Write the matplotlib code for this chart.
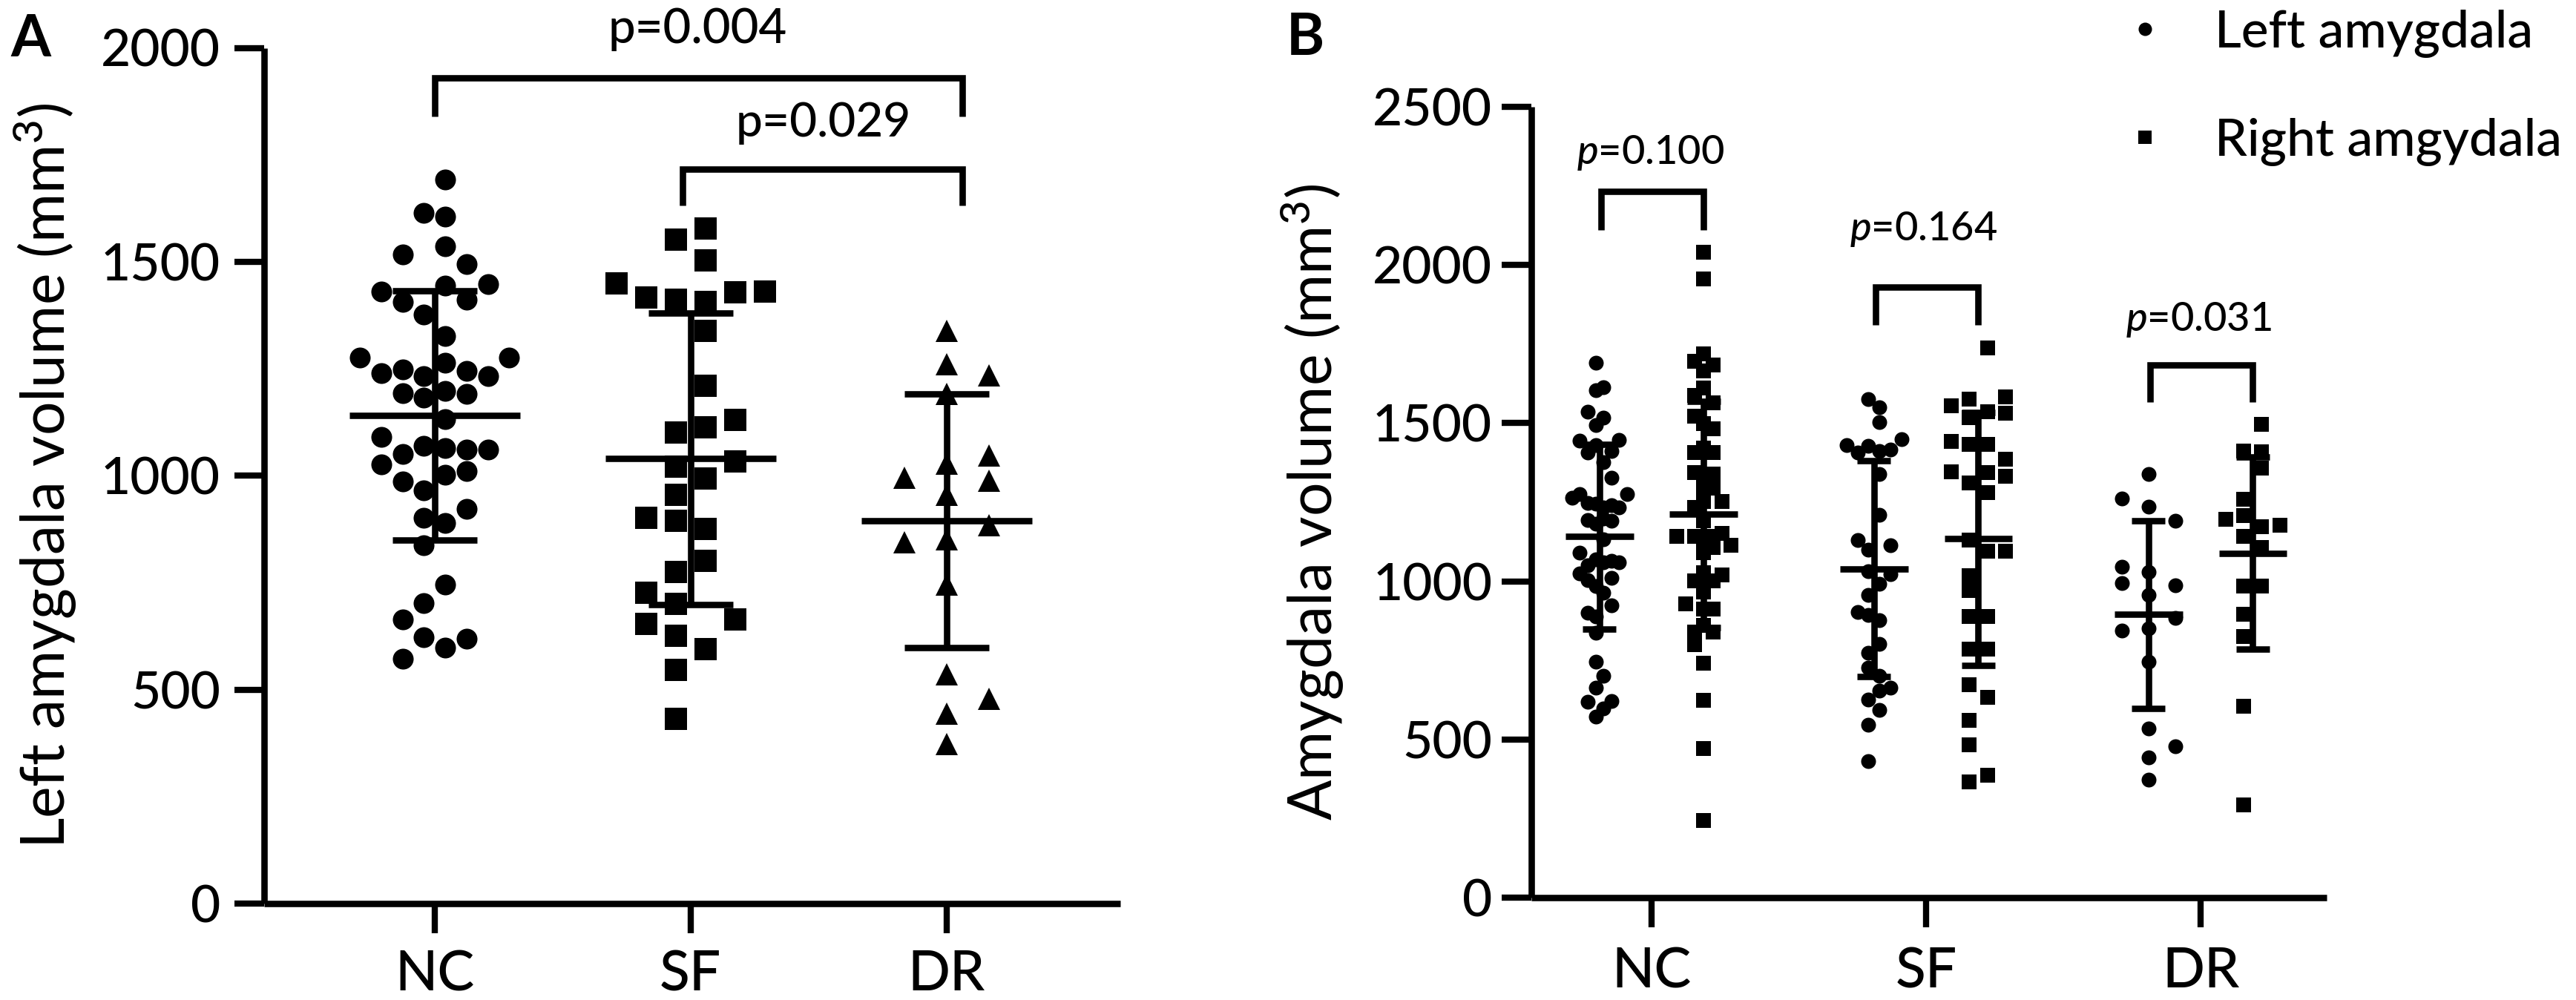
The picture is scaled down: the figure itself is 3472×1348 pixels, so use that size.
import numpy as np
import matplotlib
matplotlib.use("Agg")
import matplotlib.pyplot as plt
from matplotlib.lines import Line2D

plt.rcParams['font.family'] = ['Lato', 'DejaVu Sans']
plt.rcParams['font.weight'] = 'medium'
plt.rcParams['mathtext.fontset'] = 'custom'
plt.rcParams['mathtext.rm'] = 'Lato:medium'
plt.rcParams['mathtext.it'] = 'Lato:italic:medium'
plt.rcParams['mathtext.bf'] = 'Lato:bold'

# ---------------- data ----------------
groups = ['NC', 'SF', 'DR']

# left amygdala volume (mm3), shared by panels A and B
left_nc = [1692, 1614, 1605, 1536, 1517, 1494, 1448, 1445, 1431, 1412, 1407, 1377,
           1327, 1276, 1276, 1264, 1248, 1245, 1240, 1233, 1233, 1198, 1193, 1191,
           1182, 1133, 1091, 1069, 1064, 1061, 1061, 1050, 1026, 1010, 1003, 986,
           965, 923, 901, 890, 838, 746, 702, 664, 622, 619, 598, 572]
left_sf = [1577, 1551, 1504, 1449, 1430, 1428, 1416, 1411, 1407, 1339, 1210, 1131,
           1113, 1101, 1033, 1022, 993, 956, 902, 894, 876, 801, 775, 726, 701, 664,
           654, 626, 594, 547, 432]
left_dr = [1338, 1261, 1235, 1192, 1047, 1029, 995, 988, 956, 885, 852, 844, 746,
           535, 479, 444, 373]

# right amygdala volume (mm3), panel B
right_nc = [2041, 1956, 1720, 1695, 1685, 1665, 1612, 1587, 1564, 1521, 1498, 1482,
            1421, 1406, 1406, 1344, 1340, 1319, 1294, 1294, 1253, 1253, 1233, 1192,
            1151, 1141, 1141, 1141, 1116, 1114, 1106, 1091, 1027, 1020, 1002, 1002,
            967, 928, 912, 912, 861, 839, 839, 800, 741, 623, 472, 243]
right_sf = [1737, 1582, 1577, 1556, 1536, 1532, 1517, 1443, 1433, 1433, 1386, 1347,
            1344, 1331, 1312, 1281, 1131, 1096, 1096, 1017, 970, 888, 888, 785, 785,
            673, 633, 560, 483, 387, 366]
right_dr = [1496, 1412, 1410, 1357, 1260, 1208, 1197, 1178, 1173, 1142, 1106, 985,
            985, 897, 825, 605, 294]

# scatter column (swarm slot) of every point
slot_a_nc = [0.5, -0.5, 0.5, 0.5, -1.5, 1.5, 2.5, 0.5, -2.5, 1.5, -1.5, -0.5,
             0.5, -3.5, 3.5, 0.5, -1.5, 1.5, -2.5, -0.5, 2.5, 0.5, -1.5, 1.5,
             -0.5, 0.5, -2.5, -0.5, 0.5, 1.5, 2.5, -1.5, -2.5, 1.5, 0.5, -1.5,
             -0.5, 1.5, -0.5, 0.5, -0.5, 0.5, -0.5, -1.5, -0.5, 1.5, 0.5, -1.5]
slot_a_sf = [0.5, -0.5, 0.5, -2.5, 2.5, 1.5, -1.5, -0.5, 0.5, 0.5, 0.5, 1.5, 0.5,
             -0.5, 1.5, -0.5, 0.5, -0.5, -1.5, -0.5, 0.5, 0.5, -0.5, -1.5, -0.5,
             1.5, -1.5, -0.5, 0.5, -0.5, -0.5]
slot_a_dr = [0, 0, 1, 0, 1, 0, -1, 1, 0, 1, 0, -1, 0, 0, 1, 0, 0]

slot_bl_nc = [-0.5, 0.5, -0.5, -1.5, 0.5, -0.5, 2.5, -2.5, -0.5, 1.5, -1.5, 0.5,
              1.5, -2.5, 3.5, -3.5, -1.5, -0.5, 1.5, 2.5, 0.5, 0.5, -1.5, 1.5,
              -0.5, 0.5, -2.5, -0.5, 1.5, 2.5, 0.5, -1.5, -2.5, 1.5, -1.5, -0.5,
              0.5, 1.5, -1.5, -0.5, -0.5, -0.5, 0.5, -0.5, 1.5, -1.5, 0.5, -0.5]
slot_bl_sf = [-0.5, 0.5, 0.5, 2.5, -2.5, -0.5, 1.5, 0.5, -1.5, 0.5, 0.5, -1.5, 1.5,
              -0.5, -0.5, 1.5, 0.5, -0.5, -1.5, -0.5, 0.5, 0.5, -0.5, -0.5, 0.5,
              1.5, 0.5, -0.5, 0.5, -0.5, -0.5]
slot_bl_dr = [0, -1, 0, 1, -1, 0, -1, 1, 0, 1, 0, -1, 0, 0, 1, 0, 0]

slot_br_nc = [0, 0, 0, -0.5, 0.5, 0, 0, -0.5, 0.5, -0.5, 0, 0.5, 0, -0.5, 0.5,
              -0.5, 0.5, 0, 0, 0.5, 0, 1, -0.5, 0, 1, -1.5, -0.5, 0.5, 0, 1.5,
              0.5, 0, 0, 1, -0.5, 0.5, 0, -1, 0, 0.5, 0, -0.5, 0.5, -0.5, 0, 0, 0, 0]
slot_br_sf = [0.5, 1.5, -0.5, -1.5, 0.5, 1.5, -0.5, -1.5, -0.5, 0.5, 1.5, -1.5, 0.5,
              1.5, -0.5, 0.5, -0.5, 0.5, 1.5, -0.5, -0.5, -0.5, 0.5, -0.5, 0.5,
              -0.5, 0.5, -0.5, -0.5, 0.5, -0.5]
slot_br_dr = [0.5, -0.5, 0.5, 0.5, -0.5, -0.5, -1.5, 1.5, 0.5, -0.5, 0.5, -0.5, 0.5,
              -0.5, -0.5, -0.5, -0.5]

# mean and SD as drawn
left_mean = [1141, 1040, 895]
left_sd = [292, 341, 297]
right_mean = [1212, 1134, 1089]
right_sd = [358, 400, 304]

p_a = ['p=0.004', 'p=0.029']
p_b = ['0.100', '0.164', '0.031']

# ---------------- figure ----------------
W, H = 3473, 1348
fig = plt.figure(figsize=(W / 100, H / 100), dpi=100)

def px_rect(l, r, t, b):
    return [l / W, (H - b) / H, (r - l) / W, (b - t) / H]

axA = fig.add_axes(px_rect(356, 1510, 64.5, 1218))
axB = fig.add_axes(px_rect(2064, 3136, 144, 1210))

LW = 6.2
YTICK_FS = 50
XTICK_FS = 54
LAB_FS = 58

for ax in (axA, axB):
    for s in ('top', 'right'):
        ax.spines[s].set_visible(False)
    for s in ('left', 'bottom'):
        ax.spines[s].set_linewidth(LW)
        ax.spines[s].set_capstyle('butt')
    ax.tick_params(axis='both', width=6.0, length=29, color='k', labelcolor='k')
    ax.set_facecolor('none')

x = np.arange(len(groups))


def stats(ax, xc, mean, sd, hm, hc):
    kw = dict(colors='k', linewidth=LW, zorder=4, capstyle='butt')
    ax.hlines(mean, xc - hm, xc + hm, **kw)
    ax.vlines(xc, mean - sd, mean + sd, **kw)
    ax.hlines([mean - sd, mean + sd], xc - hc, xc + hc, **kw)


def bracket(ax, x1, x2, y, yl):
    ax.plot([x1, x1, x2, x2], [yl, y, y, yl], color='k', lw=LW,
            solid_joinstyle='miter', solid_capstyle='butt', clip_on=False, zorder=5)

# ---------- Panel A ----------
a_vals = [left_nc, left_sf, left_dr]
a_slots = [slot_a_nc, slot_a_sf, slot_a_dr]
a_step = [0.0832, 0.116, 0.165]
a_marker = ['o', 's', '^']
a_ms = [20.2, 21.0, 21.0]
for i in range(3):
    xs = x[i] + np.asarray(a_slots[i]) * a_step[i]
    axA.plot(xs, a_vals[i], linestyle='none', marker=a_marker[i], ms=a_ms[i],
             mfc='k', mec='k', mew=0, zorder=3, clip_on=False)
    stats(axA, x[i], left_mean[i], left_sd[i], 0.333, 0.165)

axA.set_xlim(-0.666, 2.679)
axA.set_ylim(0, 2000)
axA.set_yticks([0, 500, 1000, 1500, 2000])
axA.set_xticks(x)
axA.set_xticklabels(groups)
axA.tick_params(axis='y', pad=13.5, labelsize=YTICK_FS)
axA.tick_params(axis='x', pad=15, labelsize=XTICK_FS)
axA.set_ylabel('Left amygdala volume (mm$^3$)', fontsize=LAB_FS)
axA.yaxis.set_label_coords(-0.2565, 0.5)
axA.yaxis.label.set_va('center')

bracket(axA, 0.0, 2.062, 1930, 1839)
bracket(axA, 0.969, 2.062, 1716, 1631)
axA.text(1.027, 2012, p_a[0], ha='center', va='baseline', fontsize=47, clip_on=False)
axA.text(1.519, 1792, p_a[1], ha='center', va='baseline', fontsize=46, clip_on=False)

# ---------- Panel B ----------
b_left_slots = [slot_bl_nc, slot_bl_sf, slot_bl_dr]
b_left_step = [0.0284, 0.0397, 0.0973]
b_right_vals = [right_nc, right_sf, right_dr]
b_right_slots = [slot_br_nc, slot_br_sf, slot_br_dr]
b_right_step = [0.0657, 0.0657, 0.0650]
OFF = 0.19
for i in range(3):
    xl = x[i] - OFF + np.asarray(b_left_slots[i]) * b_left_step[i]
    axB.plot(xl, a_vals[i], linestyle='none', marker='o', ms=14.4,
             mfc='k', mec='k', mew=0, zorder=3)
    xr = x[i] + OFF + np.asarray(b_right_slots[i]) * b_right_step[i]
    axB.plot(xr, b_right_vals[i], linestyle='none', marker='s', ms=14.4,
             mfc='k', mec='k', mew=0, zorder=3)
    stats(axB, x[i] - OFF, left_mean[i], left_sd[i], 0.124, 0.061)
    stats(axB, x[i] + OFF, right_mean[i], right_sd[i], 0.124, 0.061)

axB.set_xlim(-0.438, 2.459)
axB.set_ylim(0, 2500)
axB.set_yticks([0, 500, 1000, 1500, 2000, 2500])
axB.set_xticks(x)
axB.set_xticklabels(groups)
axB.tick_params(axis='y', pad=9, labelsize=YTICK_FS)
axB.tick_params(axis='x', pad=18, labelsize=XTICK_FS)
axB.set_ylabel('Amygdala volume (mm$^3$)', fontsize=LAB_FS)
axB.yaxis.set_label_coords(-0.2761, 0.5)
axB.yaxis.label.set_va('center')

b_br_y = [2232, 1930, 1683]
b_br_leg = [2110, 1810, 1566]
b_txt_y = [2319, 2077, 1791]
b_txt_x = [-0.005, 0.991, 1.992]
for i in range(3):
    bracket(axB, x[i] - 0.184, x[i] + 0.19, b_br_y[i], b_br_leg[i])
    axB.text(b_txt_x[i], b_txt_y[i], '$p$=' + p_b[i], ha='center', va='baseline',
             fontsize=39, clip_on=False)

# legend (manual, top right)
leg_items = [('o', 'Left amygdala', 39), ('s', 'Right amgydala', 185)]
for mk, lab, ypx in leg_items:
    fig.add_artist(Line2D([2891 / W], [1 - ypx / H], marker=mk, ms=13, color='k',
                          mew=0, linestyle='none', transform=fig.transFigure))
    fig.text(2985 / W, 1 - (ypx + 25) / H, lab, fontsize=50, ha='left', va='baseline')

# panel letters
fig.text(14 / W, 1 - 76 / H, 'A', fontsize=56, fontweight='bold', ha='left', va='baseline')
fig.text(1734 / W, 1 - 74 / H, 'B', fontsize=56, fontweight='bold', ha='left', va='baseline')

fig.savefig('out.png', dpi=100, facecolor='white')
